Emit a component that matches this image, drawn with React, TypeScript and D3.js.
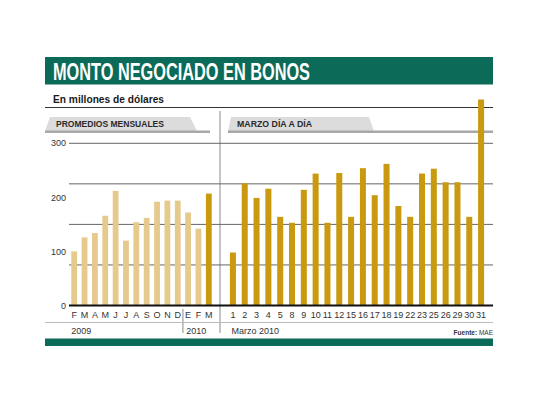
import * as d3 from "d3";

// Promedios mensuales (feb 2009 - mar 2010)
const months = ["F", "M", "A", "M", "J", "J", "A", "S", "O", "N", "D", "E", "F", "M"];
const monthValues = [100, 126, 134, 166, 212, 120, 154, 162, 192, 194, 194, 172, 142, 207];

// Marzo 2010, día a día
const days = ["1", "2", "3", "4", "5", "8", "9", "10", "11", "12", "15", "16", "17", "18", "19", "22", "23", "25", "26", "29", "30", "31"];
const dayValues = [98, 226, 199, 216, 164, 153, 214, 244, 153, 245, 164, 254, 204, 262, 184, 164, 244, 253, 228, 228, 164, 381];

const gridValues = [0, 75, 150, 225, 300];
const tickLabels = [0, 100, 200, 300];
const yearLabels = ["2009", "2010"];

const GREEN = "#0b6a58";
const LIGHT = "#e6c98c";
const GOLD = "#c99a10";
const FONT = "'Liberation Sans Narrow', 'Liberation Sans', Arial, sans-serif";

export default function App() {
    const left = 45;
    const right = 493;
    const plotLeft = 69;
    const divider = 220;

    const y = d3.scaleLinear().domain([0, 300]).range([305.5, 143.3]);

    const xMonth = d3
        .scaleBand<number>()
        .domain(d3.range(months.length))
        .range([69, 214])
        .paddingInner(0.44)
        .paddingOuter(0.22);

    const xDay = d3
        .scaleBand<number>()
        .domain(d3.range(days.length))
        .range([226, 488])
        .paddingInner(0.49)
        .paddingOuter(0.33);

    const yearSep = (xMonth(10)! + xMonth.bandwidth() + xMonth(11)!) / 2;

    return (
        <svg width={540} height={405} style={{ position: "absolute", left: 0, top: 0, background: "#fff" }} fontFamily={FONT}>
            {/* title bar */}
            <rect x={left} y={57} width={right - left} height={27.5} fill={GREEN} />
            <text x={53} y={80} fill="#fff" fontSize={23} fontWeight="bold" textLength={257} lengthAdjust="spacingAndGlyphs">
                MONTO NEGOCIADO EN BONOS
            </text>
            <text x={53} y={103} fill="#1a1a1a" fontSize={11.5} fontWeight="bold" textLength={111} lengthAdjust="spacingAndGlyphs">
                En millones de dólares
            </text>
            <line x1={left} x2={right} y1={107.5} y2={107.5} stroke="#333" strokeWidth={1.2} />

            {/* panel headers */}
            <polygon points="50,117 190,117 197,131 45,131" fill="#dcdcdc" />
            <rect x={45} y={130.5} width={165} height={2.5} fill="#a8a8a8" />
            <text x={56} y={127} fill="#2a2a2a" fontSize={9.5} fontWeight="bold" textLength={108} lengthAdjust="spacingAndGlyphs">
                PROMEDIOS MENSUALES
            </text>
            <polygon points="231,117 369,117 374,131 228,131" fill="#dcdcdc" />
            <rect x={228} y={130.5} width={right - 228} height={2.5} fill="#a8a8a8" />
            <text x={237} y={127} fill="#2a2a2a" fontSize={9.5} fontWeight="bold" textLength={75} lengthAdjust="spacingAndGlyphs">
                MARZO DÍA A DÍA
            </text>

            {/* divider */}
            <line x1={divider} x2={divider} y1={111} y2={333} stroke="#8a8a8a" strokeWidth={1} />

            {/* grid */}
            {gridValues.slice(1).map((v) => (
                <line key={v} x1={plotLeft} x2={right} y1={y(v)} y2={y(v)} stroke="#666" strokeWidth={1} />
            ))}
            {tickLabels.map((v) => (
                <text key={v} x={66} y={y(v)} dy="0.35em" textAnchor="end" fontSize={9} fill="#333">
                    {v}
                </text>
            ))}

            {/* monthly bars */}
            {monthValues.map((v, i) => (
                <rect
                    key={"m" + i}
                    x={xMonth(i)}
                    y={y(v)}
                    width={xMonth.bandwidth()}
                    height={y(0) - y(v)}
                    fill={i === months.length - 1 ? GOLD : LIGHT}
                />
            ))}

            {/* daily bars */}
            {dayValues.map((v, i) => (
                <rect key={"d" + i} x={xDay(i)} y={y(v)} width={xDay.bandwidth()} height={y(0) - y(v)} fill={GOLD} />
            ))}

            {/* baseline */}
            <line x1={plotLeft} x2={right} y1={y(0)} y2={y(0)} stroke="#111" strokeWidth={2} />

            {/* x labels */}
            {months.map((m, i) => (
                <text key={"ml" + i} x={xMonth(i)! + xMonth.bandwidth() / 2} y={317.5} textAnchor="middle" fontSize={9} fill="#333">
                    {m}
                </text>
            ))}
            {days.map((d, i) => (
                <text key={"dl" + i} x={xDay(i)! + xDay.bandwidth() / 2} y={317.5} textAnchor="middle" fontSize={9} fill="#333">
                    {d}
                </text>
            ))}
            <line x1={yearSep} x2={yearSep} y1={309} y2={333} stroke="#8a8a8a" strokeWidth={1} />
            <line x1={left} x2={right} y1={322.5} y2={322.5} stroke="#bbb" strokeWidth={1} />

            <text x={xMonth(0)!} y={333.5} fontSize={9} fill="#333">
                {yearLabels[0]}
            </text>
            <text x={xMonth(11)! + 1} y={333.5} fontSize={9} fill="#333">
                {yearLabels[1]}
            </text>
            <text x={xDay(0)! + 1.5} y={333.5} fontSize={9} fill="#333">
                Marzo 2010
            </text>
            <text x={right} y={334.5} textAnchor="end" fontSize={6.5} fill="#333">
                <tspan fontWeight="bold">Fuente:</tspan> MAE
            </text>

            {/* bottom bar */}
            <rect x={left} y={338.5} width={right - left} height={7.5} fill={GREEN} />
        </svg>
    );
}
